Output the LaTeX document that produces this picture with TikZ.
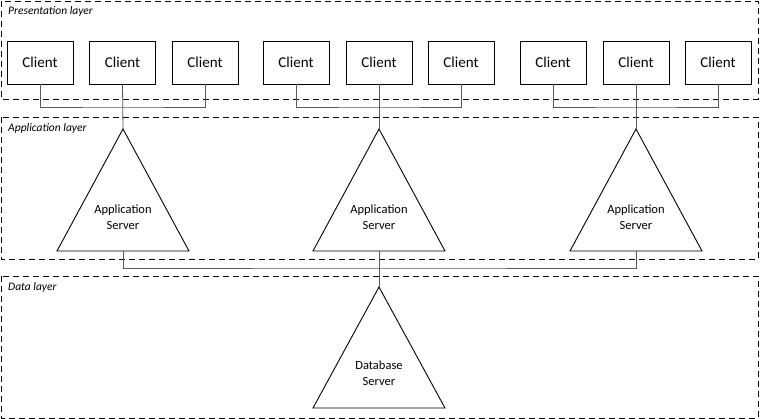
\documentclass[tikz,border=0pt]{standalone}
\usepackage{fontspec}
\setmainfont{Carlito}
\begin{document}
\begin{tikzpicture}[x=1pt,y=-1pt,
  layer/.style={draw, line width=0.9pt, dash pattern=on 6pt off 4pt},
  layerlabel/.style={anchor=west, font=\itshape\fontsize{11.5}{12}\selectfont, inner sep=0pt},
  client/.style={draw, line width=0.9pt, minimum width=66pt, minimum height=43pt, inner sep=0pt, font=\fontsize{15}{16}\selectfont},
  tri/.style={draw, line width=0.9pt, line join=miter},
  srvtext/.style={align=center, font=\fontsize{12.5}{15.5}\selectfont, inner sep=0pt},
  wire/.style={draw=black!65, line width=0.8pt}
]
\useasboundingbox (0,0) rectangle (760,419);
% layers
\draw[layer] (1,1) rectangle (758,99);
\draw[layer] (1,117) rectangle (758,259);
\draw[layer] (1,276) rectangle (758,418);
\node[layerlabel] (lp) at (8,11) {Presentation layer};
\node[layerlabel] (la) at (8,128) {Application layer};
\node[layerlabel] (ld) at (8,287) {Data layer};
% clients
\foreach \i/\x in {1/40,2/122.5,3/205,4/296,5/379,6/461,7/553,8/636,9/718}
  \node[client] (c\i) at (\x,62.5) {Client};
% application servers
\foreach \i/\x in {1/123,2/379,3/636}{
  \draw[tri] (\x,129) -- (\x+66,251) -- (\x-66,251) -- cycle;
  \coordinate (a\i top) at (\x,129);
  \coordinate (a\i bot) at (\x,251);
  \node[srvtext] (a\i) at (\x,217) {Application\\Server};
}
% database server
\draw[tri] (379,287) -- (445,408) -- (313,408) -- cycle;
\coordinate (dtop) at (379,287);
\node[srvtext] (d) at (379,373) {Database\\Server};
% bus coordinates
\coordinate (b1) at (122.5,107);
\coordinate (b2) at (379,107);
\coordinate (b3) at (636,107);
\coordinate (bb) at (379,268);
% client wires
\draw[wire] (c1.south) |- (b1) -| (c3.south);
\draw[wire] (c2.south) -- (a1top);
\draw[wire] (c4.south) |- (b2) -| (c6.south);
\draw[wire] (c5.south) -- (a2top);
\draw[wire] (c7.south) |- (b3) -| (c9.south);
\draw[wire] (c8.south) -- (a3top);
% server wires
\draw[wire] (a1bot) |- (bb) -| (a3bot);
\draw[wire] (a2bot) -- (dtop);
\end{tikzpicture}
\end{document}
